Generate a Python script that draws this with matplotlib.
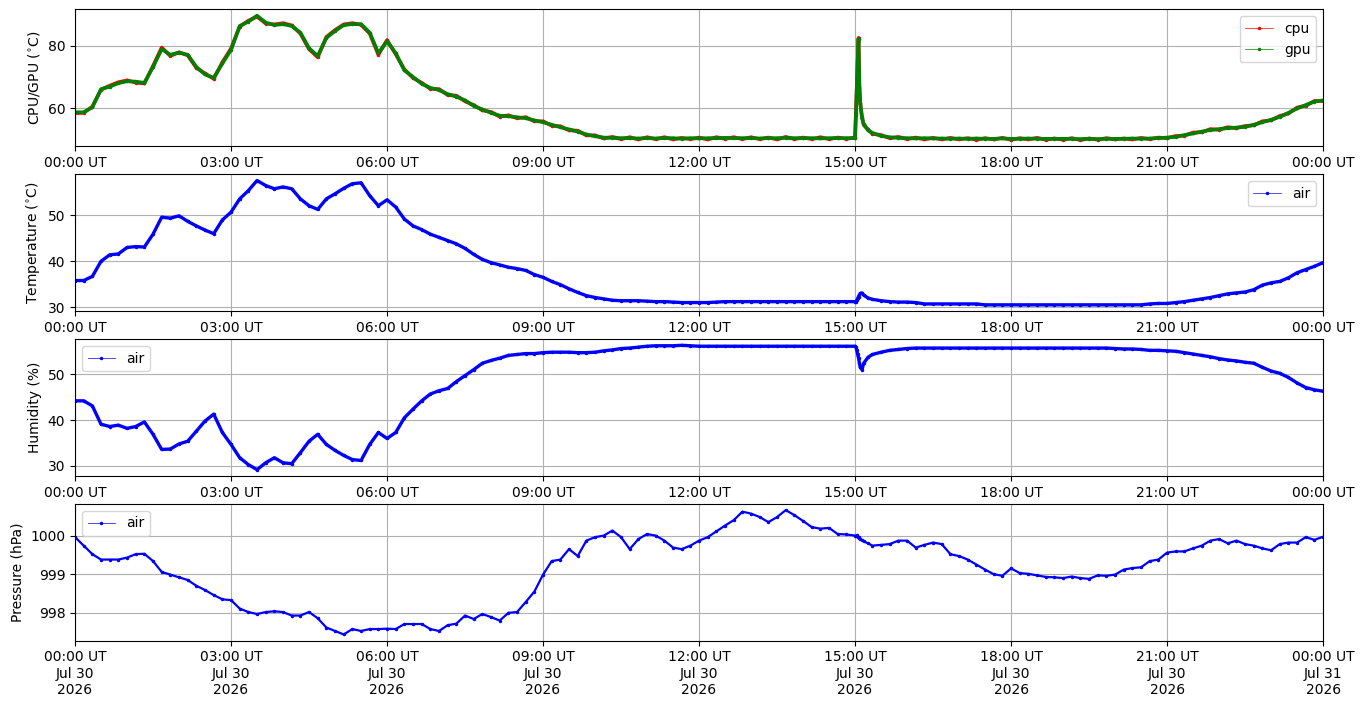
#!/usr/bin/env python3
"""Sensor log for one day: CPU/GPU temperature, air temperature, humidity, pressure."""

from datetime import datetime, timedelta

import matplotlib
matplotlib.use('Agg')
import matplotlib.pyplot as plt
import matplotlib.dates as mdates


DAY_START = datetime(2026, 7, 30)

# sample times, minutes after midnight (one row per hour)
minutes = [
    0, 10, 20, 30, 40, 50,
    60, 70, 80, 90, 100, 110,
    120, 130, 140, 150, 160, 170,
    180, 190, 200, 210, 220, 230,
    240, 250, 260, 270, 280, 290,
    300, 310, 320, 330, 340, 350,
    360, 370, 380, 390, 400, 410,
    420, 430, 440, 450, 460, 470,
    480, 490, 500, 510, 520, 530,
    540, 550, 560, 570, 580, 590,
    600, 610, 620, 630, 640, 650,
    660, 670, 680, 690, 700, 710,
    720, 730, 740, 750, 760, 770,
    780, 790, 800, 810, 820, 830,
    840, 850, 860, 870, 880, 890,
    900, 901, 902, 903, 904, 905, 906, 908, 910, 915, 920, 930, 940, 950,
    960, 970, 980, 990, 1000, 1010,
    1020, 1030, 1040, 1050, 1060, 1070,
    1080, 1090, 1100, 1110, 1120, 1130,
    1140, 1150, 1160, 1170, 1180, 1190,
    1200, 1210, 1220, 1230, 1240, 1250,
    1260, 1270, 1280, 1290, 1300, 1310,
    1320, 1330, 1340, 1350, 1360, 1370,
    1380, 1390, 1400, 1410, 1420, 1430,
    1440,
]

cpu_temp = [
    58.5, 58.6, 60.6, 66.0, 67.3, 68.4,
    69.0, 68.3, 68.0, 73.6, 79.5, 76.8,
    78.0, 77.0, 73.0, 71.2, 69.5, 74.8,
    79.2, 86.2, 88.1, 89.4, 87.2, 86.9,
    87.3, 86.6, 84.0, 79.0, 76.4, 82.9,
    85.1, 86.9, 87.3, 86.8, 84.0, 77.2,
    81.9, 77.4, 72.5, 69.8, 68.2, 66.3,
    66.2, 64.3, 64.1, 62.3, 61.1, 59.4,
    58.9, 57.4, 57.8, 56.9, 57.2, 55.9,
    55.9, 54.5, 54.3, 53.0, 52.9, 51.4,
    51.4, 50.4, 50.9, 50.2, 50.8, 50.1,
    50.8, 50.2, 50.8, 50.1, 50.6, 50.2,
    50.7, 50.1, 50.8, 50.3, 50.8, 50.2,
    50.8, 50.2, 50.7, 50.1, 50.9, 50.2,
    50.7, 50.2, 50.8, 50.2, 50.7, 50.3,
    50.7, 58.4, 67.0, 75.5, 82.6, 67.0, 61.5, 57.3, 54.7, 53.3, 51.9, 51.5, 50.5, 50.9,
    50.2, 50.7, 50.1, 50.6, 50.1, 50.6,
    50.1, 50.5, 50.0, 50.5, 50.1, 50.6,
    50.0, 50.5, 50.1, 50.6, 50.0, 50.4,
    50.0, 50.5, 49.9, 50.4, 50.0, 50.5,
    50.1, 50.4, 50.1, 50.6, 50.2, 50.7,
    50.5, 51.2, 51.3, 52.3, 52.4, 53.4,
    53.2, 54.0, 53.7, 54.4, 54.6, 55.9,
    56.2, 57.6, 58.4, 60.3, 60.9, 62.4,
    62.4,
]

gpu_temp = [
    58.8, 58.8, 60.4, 66.2, 67.0, 68.1,
    68.7, 68.6, 68.2, 73.3, 79.0, 77.2,
    77.9, 77.2, 73.3, 70.9, 69.8, 74.4,
    78.8, 86.4, 87.8, 89.7, 87.5, 86.7,
    87.0, 86.4, 84.3, 79.3, 76.8, 82.6,
    84.8, 86.7, 87.0, 87.0, 84.3, 77.7,
    81.5, 77.7, 72.2, 70.1, 67.9, 66.6,
    65.9, 64.6, 63.8, 62.6, 60.8, 59.7,
    58.6, 57.7, 57.5, 57.2, 56.9, 56.2,
    55.6, 54.8, 54.0, 53.3, 52.6, 51.7,
    51.1, 50.7, 50.6, 50.5, 50.5, 50.4,
    50.5, 50.4, 50.5, 50.5, 50.3, 50.5,
    50.4, 50.5, 50.5, 50.6, 50.5, 50.5,
    50.5, 50.4, 50.5, 50.5, 50.6, 50.5,
    50.5, 50.5, 50.4, 50.5, 50.5, 50.5,
    50.5, 58.0, 66.5, 75.0, 82.3, 66.5, 61.8, 57.0, 55.0, 53.0, 52.2, 51.2, 50.8, 50.6,
    50.5, 50.4, 50.5, 50.4, 50.4, 50.3,
    50.4, 50.3, 50.4, 50.3, 50.3, 50.4,
    50.3, 50.3, 50.4, 50.3, 50.3, 50.3,
    50.3, 50.3, 50.2, 50.3, 50.2, 50.3,
    50.3, 50.3, 50.4, 50.3, 50.4, 50.5,
    50.7, 50.9, 51.5, 52.0, 52.6, 53.1,
    53.4, 53.7, 53.9, 54.1, 54.8, 55.6,
    56.4, 57.3, 58.6, 60.0, 61.1, 62.2,
    62.6,
]

air_temp = [
    35.8, 35.8, 36.7, 40.0, 41.4, 41.6,
    43.0, 43.2, 43.1, 45.9, 49.6, 49.4,
    49.9, 48.7, 47.7, 46.8, 46.0, 49.0,
    50.7, 53.6, 55.4, 57.6, 56.5, 55.8,
    56.2, 55.8, 53.6, 52.1, 51.3, 53.6,
    54.7, 55.9, 56.9, 57.1, 54.3, 52.1,
    53.4, 51.8, 49.2, 47.7, 46.9, 45.9,
    45.2, 44.5, 43.8, 42.8, 41.5, 40.4,
    39.7, 39.2, 38.7, 38.4, 38.0, 37.1,
    36.5, 35.6, 34.9, 34.0, 33.2, 32.5,
    32.1, 31.8, 31.5, 31.4, 31.4, 31.4,
    31.3, 31.2, 31.2, 31.1, 31.0, 31.0,
    31.0, 31.0, 31.1, 31.2, 31.2, 31.2,
    31.2, 31.2, 31.2, 31.2, 31.2, 31.2,
    31.2, 31.2, 31.2, 31.2, 31.2, 31.2,
    31.2, 31.2, 31.5, 31.9, 32.3, 32.7, 33.0, 33.1, 32.6, 32.0, 31.7, 31.4, 31.2, 31.1,
    31.1, 31.0, 30.7, 30.7, 30.7, 30.7,
    30.7, 30.7, 30.7, 30.5, 30.5, 30.5,
    30.5, 30.5, 30.5, 30.5, 30.5, 30.5,
    30.5, 30.5, 30.5, 30.5, 30.5, 30.5,
    30.5, 30.5, 30.5, 30.5, 30.7, 30.8,
    30.8, 31.0, 31.2, 31.5, 31.8, 32.1,
    32.5, 32.9, 33.1, 33.3, 33.8, 34.8,
    35.3, 35.6, 36.4, 37.5, 38.2, 38.9,
    39.7,
]

air_humidity = [
    44.2, 44.2, 43.1, 39.1, 38.6, 38.9,
    38.2, 38.6, 39.6, 36.9, 33.6, 33.7,
    34.8, 35.4, 37.6, 39.8, 41.3, 37.3,
    34.7, 31.8, 30.3, 29.2, 30.7, 31.8,
    30.7, 30.5, 32.9, 35.4, 36.9, 34.7,
    33.4, 32.3, 31.4, 31.2, 34.7, 37.3,
    36.0, 37.3, 40.5, 42.4, 44.2, 45.7,
    46.4, 46.9, 48.4, 49.7, 51.0, 52.4,
    53.0, 53.5, 54.1, 54.3, 54.5, 54.5,
    54.7, 54.8, 54.8, 54.8, 54.7, 54.7,
    54.8, 55.1, 55.3, 55.6, 55.7, 55.9,
    56.1, 56.2, 56.2, 56.2, 56.3, 56.2,
    56.1, 56.1, 56.1, 56.1, 56.1, 56.1,
    56.1, 56.1, 56.1, 56.1, 56.1, 56.1,
    56.1, 56.1, 56.1, 56.1, 56.1, 56.1,
    56.1, 55.9, 55.2, 54.4, 53.5, 52.5, 51.5, 51.0, 52.4, 53.7, 54.3, 54.8, 55.2, 55.4,
    55.6, 55.7, 55.7, 55.7, 55.7, 55.7,
    55.7, 55.7, 55.7, 55.7, 55.7, 55.7,
    55.7, 55.7, 55.7, 55.7, 55.7, 55.7,
    55.7, 55.7, 55.7, 55.7, 55.7, 55.7,
    55.6, 55.5, 55.5, 55.4, 55.2, 55.2,
    55.1, 55.0, 54.7, 54.4, 54.1, 53.8,
    53.4, 53.1, 52.9, 52.6, 52.4, 51.5,
    50.7, 50.2, 49.3, 48.1, 47.1, 46.6,
    46.3,
]

air_pressure = [
    999.96, 999.74, 999.52, 999.38, 999.38, 999.38,
    999.43, 999.52, 999.53, 999.34, 999.06, 998.99,
    998.92, 998.85, 998.70, 998.59, 998.46, 998.35,
    998.33, 998.11, 998.02, 997.97, 998.02, 998.04,
    998.02, 997.93, 997.93, 998.02, 997.86, 997.62,
    997.53, 997.44, 997.58, 997.53, 997.58, 997.58,
    997.59, 997.58, 997.71, 997.71, 997.71, 997.58,
    997.53, 997.68, 997.72, 997.93, 997.84, 997.97,
    997.89, 997.80, 998.00, 998.02, 998.28, 998.55,
    998.99, 999.34, 999.38, 999.65, 999.47, 999.87,
    999.96, 1000.00, 1000.13, 999.96, 999.65, 999.91,
    1000.04, 1000.00, 999.87, 999.69, 999.65, 999.74,
    999.87, 999.96, 1000.11, 1000.26, 1000.40, 1000.62,
    1000.57, 1000.48, 1000.35, 1000.48, 1000.66, 1000.53,
    1000.38, 1000.22, 1000.18, 1000.20, 1000.04, 1000.03,
    1000.00, 999.98, 1000.01, 999.96, 999.97, 999.94, 999.92, 999.89, 999.85, 999.80,
    999.74, 999.76, 999.78, 999.87,
    999.87, 999.69, 999.76, 999.82, 999.78, 999.52,
    999.47, 999.38, 999.25, 999.12, 999.00, 998.96,
    999.15, 999.03, 999.01, 998.97, 998.93, 998.92,
    998.90, 998.94, 998.90, 998.88, 998.97, 998.96,
    998.99, 999.12, 999.16, 999.18, 999.34, 999.38,
    999.56, 999.59, 999.59, 999.67, 999.74, 999.87,
    999.91, 999.80, 999.87, 999.78, 999.74, 999.67,
    999.62, 999.78, 999.82, 999.82, 999.96, 999.89,
    999.97,
]


def plot_series(ax, t, values, color, label, under_lw=2.4):
    # thick underlay stands in for the dense 1-minute samples of the original log
    ax.plot(t, values, '-', color=color, linewidth=under_lw, solid_capstyle='round')
    ax.plot(t, values, '.-', color=color, linewidth=0.5, markersize=3, label=label)


def style_time_axis(ax, t0, t1, bottom=False):
    ax.set_xlim(t0, t1)
    ax.xaxis.set_major_locator(mdates.HourLocator(byhour=range(0, 24, 3)))
    if bottom:
        ax.xaxis.set_major_formatter(mdates.DateFormatter('%H:%M UT\n%b %d\n%Y'))
    else:
        ax.xaxis.set_major_formatter(mdates.DateFormatter('%H:%M UT'))
    ax.grid(True)


def main():
    t = [DAY_START + timedelta(minutes=m) for m in minutes]
    t0 = DAY_START
    t1 = DAY_START + timedelta(days=1)

    fig, axes = plt.subplots(4, 1, figsize=(13.64, 7.07), dpi=100)
    fig.subplots_adjust(left=0.055, right=0.970, top=0.9866, bottom=0.0938, hspace=0.205)

    ax = axes[0]
    plot_series(ax, t, cpu_temp, 'red', 'cpu', under_lw=2.6)
    plot_series(ax, t, gpu_temp, 'green', 'gpu', under_lw=2.6)
    ax.set_ylabel(r'CPU/GPU ($^{\circ}$C)')
    ax.legend(loc='upper right')
    style_time_axis(ax, t0, t1)

    ax = axes[1]
    plot_series(ax, t, air_temp, 'blue', 'air')
    ax.set_ylabel(r'Temperature ($^{\circ}$C)')
    ax.legend(loc='upper right')
    style_time_axis(ax, t0, t1)

    ax = axes[2]
    plot_series(ax, t, air_humidity, 'blue', 'air')
    ax.set_ylabel('Humidity (%)')
    ax.legend(loc='upper left')
    style_time_axis(ax, t0, t1)

    ax = axes[3]
    plot_series(ax, t, air_pressure, 'blue', 'air', under_lw=1.6)
    ax.set_ylabel('Pressure (hPa)')
    ax.legend(loc='upper left')
    ax.ticklabel_format(axis='y', useOffset=False)
    style_time_axis(ax, t0, t1, bottom=True)

    fig.savefig('out.png', dpi=100)


if __name__ == '__main__':
    main()
